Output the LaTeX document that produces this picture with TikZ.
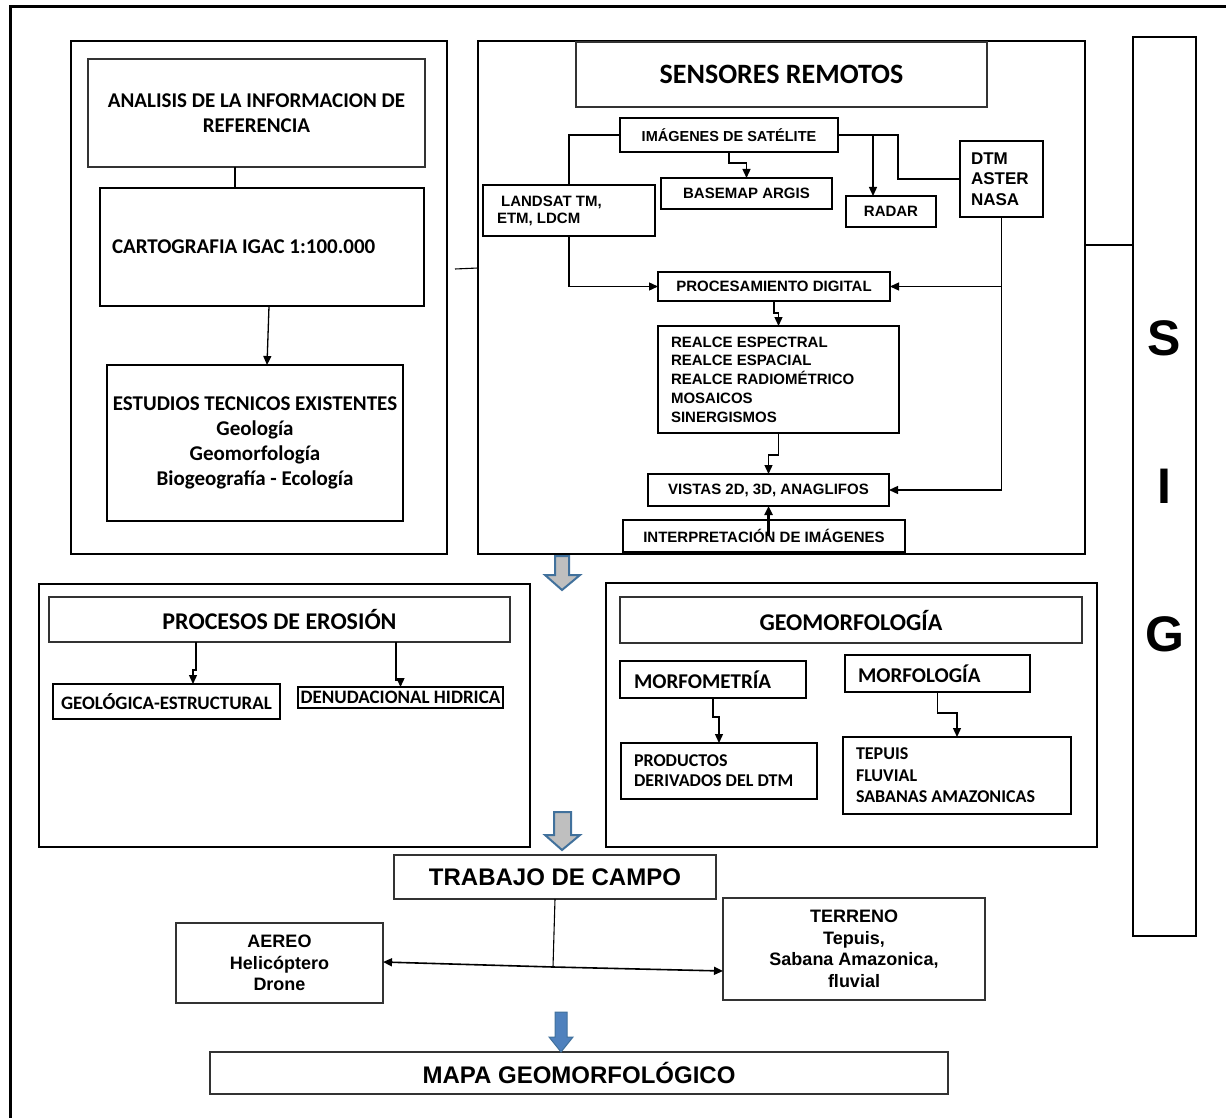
\documentclass[tikz,border=0pt]{standalone}
\usepackage{fontspec}
\setmainfont{Carlito}
\newfontfamily\arialfont{Liberation Sans}
\usepackage{tikz}
\usetikzlibrary{arrows.meta, calc}

\definecolor{arrowblue}{RGB}{65,113,156}
\definecolor{arrowgray}{RGB}{191,191,191}
\definecolor{fillblue}{RGB}{79,129,189}

\begin{document}
\begin{tikzpicture}[x=1pt, y=-1pt,
    box/.style={rectangle, draw=black, line width=1.1pt, inner sep=0pt, outer sep=0pt, align=center},
    heavybox/.style={box, draw=black!80, line width=2.2pt},
    panel/.style={box, line width=1.2pt},
    wh/.style 2 args={minimum width=#1, minimum height=#2},
    lefttext/.style={text width=#1, align=flush left},
    cal/.style 2 args={font=\bfseries\fontsize{#1}{#2}\selectfont},
    ari/.style 2 args={font=\arialfont\bfseries\fontsize{#1}{#2}\selectfont},
    arrow/.style={-{Triangle[length=9pt, width=8pt]}, line width=1.3pt},
    link/.style={line width=1.1pt},
    hollowarrow/.style={draw=arrowblue, fill=arrowgray, line width=2pt, line join=miter},
    solidarrow/.style={draw=arrowblue, fill=fillblue, line width=1pt}
]
\useasboundingbox (0,0) rectangle (1226,1118);

% outer frame
\draw[line width=3pt] (10,1118) -- (10,7) -- (1226,7);

% Reference information
\node[panel, wh={376}{513}] (refpanel) at (259,297.5) {};
\node[heavybox, wh={337}{108}, cal={21}{25}] (analisis) at (256.5,113) {ANALISIS DE LA INFORMACION DE\\REFERENCIA};
\node[box, wh={324}{118}, cal={21}{25}, lefttext=300] (carto) at (262,247) {\raisebox{-4pt}{CARTOGRAFIA IGAC 1:100.000}};
\node[box, wh={296}{156}, cal={21}{25}] (estudios) at (255,443) {ESTUDIOS TECNICOS EXISTENTES\\Geología\\Geomorfología\\Biogeografía - Ecología};

% Remote sensing
\node[panel, wh={607}{513}] (senspanel) at (781.5,297.5) {};
\node[heavybox, wh={411}{65}, cal={28}{30}] (sensores) at (781.5,74.5) {SENSORES REMOTOS};
\node[box, wh={218}{34}, ari={14.5}{17}] (imagenes) at (729,135) {IMÁGENES DE SATÉLITE};
\node[box, wh={171}{31}, ari={15}{18}] (basemap) at (746.5,193.5) {BASEMAP ARGIS};
\node[box, wh={90}{31}, ari={15}{18}] (radar) at (891,211.5) {RADAR};
\node[box, wh={83}{76}, ari={17}{20.5}, lefttext=61] (dtm) at (1001.5,179) {DTM\\ASTER\\NASA};
\node[box, wh={172}{51}, ari={15}{17}, lefttext=144] (landsat) at (569,210.5) {\ LANDSAT TM,\\ETM, LDCM};
\node[box, wh={232}{29}, ari={15}{18}] (proc) at (774,286.5) {PROCESAMIENTO DIGITAL};
\node[box, wh={241}{107}, ari={15}{18.75}, lefttext=215] (realce) at (778.5,379.5) {REALCE ESPECTRAL\\REALCE ESPACIAL\\REALCE RADIOMÉTRICO\\MOSAICOS\\SINERGISMOS};
\node[box, wh={241}{32}, ari={15}{18}] (vistas) at (768.5,490) {VISTAS 2D, 3D, ANAGLIFOS};
\node[box, wh={282}{32}, ari={15}{18}] (interp) at (764,536) {INTERPRETACIÓN DE IMÁGENES};

% SIG
\node[box, wh={63}{899}, font=\arialfont\bfseries\fontsize{50}{148}\selectfont] (sig) at (1164.5,486.5) {S\\I\\G};

% Erosion
\node[panel, wh={491}{263}] (erospanel) at (284.5,715.5) {};
\node[heavybox, wh={461}{45}, cal={24}{28}] (erosion) at (279.5,619.5) {PROCESOS DE EROSIÓN};
\node[box, wh={227}{35}, cal={19}{22}, line width=1.5pt] (geoest) at (166.5,701.5) {GEOLÓGICA-ESTRUCTURAL};
\node[box, wh={205}{21}, cal={19}{22}] (denud) at (400.5,697.5) {DENUDACIONAL HIDRICA};

% Geomorphology
\node[panel, wh={491}{264}] (geopanel) at (851.5,715) {};
\node[heavybox, wh={462}{46}, cal={24}{28}] (geomorf) at (851,620) {GEOMORFOLOGÍA};
\node[box, wh={186}{37}, cal={21}{24}, lefttext=158] (morfomet) at (713,679.5) {MORFOMETRÍA};
\node[box, wh={185}{37}, cal={21}{24}, lefttext=159] (morfolog) at (937.5,673.5) {MORFOLOGÍA};
\node[box, wh={196}{56}, cal={18}{20}, lefttext=170] (productos) at (719,771) {PRODUCTOS\\DERIVADOS DEL DTM};
\node[box, wh={228}{77}, cal={18}{21.5}, lefttext=202] (tepuis) at (957,775.5) {TEPUIS\\FLUVIAL\\SABANAS AMAZONICAS};

% Field work and map
\node[heavybox, wh={322}{44}, ari={24}{28}] (campo) at (555,877) {TRABAJO DE CAMPO};
\node[heavybox, wh={207}{80}, ari={18}{21.5}] (aereo) at (279.5,963) {AEREO\\Helicóptero\\Drone};
\node[heavybox, wh={262}{102}, ari={18}{21.5}] (terreno) at (854,949) {TERRENO\\Tepuis,\\Sabana Amazonica,\\fluvial};
\node[heavybox, wh={738}{42}, ari={24}{28}] (mapa) at (579,1073) {MAPA GEOMORFOLÓGICO};
\coordinate (jn) at (553,967);

% Reference flows
\draw[link] (analisis.south -| 235,0) -- (carto.north -| 235,0);
\draw[arrow] (carto.south -| 269,0) -- (estudios.north -| 267,0);
\draw[link] ($(refpanel.east |- 0,269)+(8,0)$) -- (senspanel.west |- 0,268);
\draw[link] (senspanel.east |- 0,245) -- (sig.west |- 0,245);

% Remote sensing flows
\draw[link] (imagenes.west) -| (landsat.north);
\draw[arrow] (imagenes.south) -- ++(0,11) -| (basemap.north);
\draw[arrow] (imagenes.east) -| (radar.north -| 873,0);
\draw[link] (imagenes.east) -- ++(60,0) |- (dtm.west);
\draw[arrow] (landsat.south) |- (proc.west);
\draw[arrow] (dtm.south) |- (vistas.east);
\draw[arrow] (dtm.south |- proc.east) -- (proc.east);
\draw[arrow] (proc.south) -- ++(0,12) -| (realce.north);
\draw[arrow] (realce.south) -- ++(0,22) -| (vistas.north);
\draw[arrow, line width=2.5pt] (interp.center -| vistas.south) -- (vistas.south);

% Erosion flows
\draw[arrow] (erosion.south -| 196,0) -- ++(0,28) -| (geoest.north -| 193,0);
\draw[arrow] (erosion.south -| 396,0) -- ++(0,38) -| (denud.north);

% Geomorphology flows
\draw[arrow] (morfomet.south) -- ++(0,19) -| (productos.north);
\draw[arrow] (morfolog.south) -- ++(0,21) -| (tepuis.north);

% Field work flows
\draw[link] (campo.south) -- (jn);
\draw[arrow, line width=1.6pt] (jn) -- (aereo.east |- 0,962);
\draw[arrow, line width=1.6pt] (jn) -- (terreno.west |- 0,971);

% Block arrows
\draw[hollowarrow] (555,556) -- (569,556) -- (569,575) -- (580,575) -- (562,590) -- (545,575) -- (555,575) -- cycle;
\draw[hollowarrow] (554,812) -- (571,812) -- (571,835) -- (580,835) -- (562,850) -- (545,835) -- (554,835) -- cycle;
\draw[solidarrow] (555,1012) -- (567,1012) -- (567,1037) -- (573,1037) -- (561,1052) -- (549,1037) -- (555,1037) -- cycle;

\end{tikzpicture}
\end{document}
